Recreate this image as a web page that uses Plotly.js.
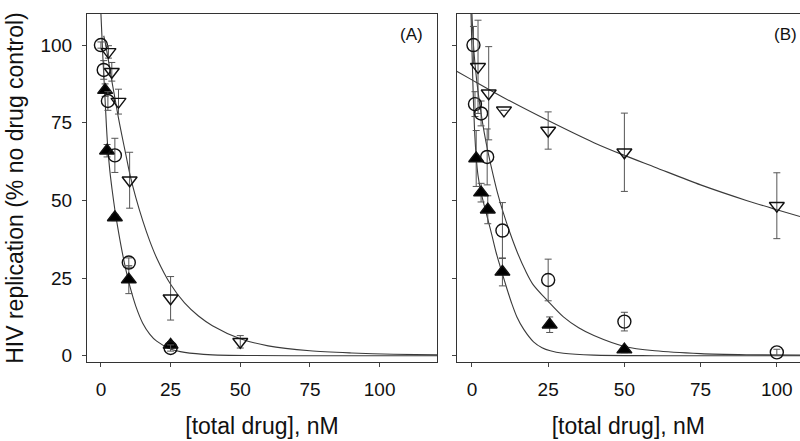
<!DOCTYPE html>
<html>
<head>
<meta charset="utf-8">
<script src="https://cdn.plot.ly/plotly-3.0.1.min.js"></script>
<style>
html,body{margin:0;padding:0;background:#fff;overflow:hidden;}
#chart{width:800px;height:441px;}
</style>
</head>
<body>
<div id="chart"></div>
<script>
// ---------- Panel A data ----------
var aCircX = [0, 1, 2.5, 5, 10, 25];
var aCircY = [100, 92, 82, 64.5, 30, 2.5];
var aCircE = [1, 3, 3, 5.5, 1.5, 1];

var aTriX = [1.5, 2.2, 5, 10, 25];
var aTriY = [85.5, 66, 44.5, 24.5, 3.5];
var aTriE = [2, 2, 1, 4.5, 1];

var aDownX = [2.7, 3.9, 6.3, 10.3, 25, 50];
var aDownY = [97.8, 91.4, 81.8, 56.5, 18.5, 4.5];
var aDownE = [2, 3, 4, 9, 7, 2];

// fitted curves
var aFit1X = [0, 0.7, 1.4, 2, 2.5, 3.2, 4, 5, 6, 7.5, 9, 10.5, 12.5, 15, 17.5, 20, 25, 30, 40, 55, 80, 120.6];
var aFit1Y = [110, 96, 84, 73.5, 66.5, 59.5, 53.5, 47, 41.5, 34, 27.5, 22, 16, 10.5, 7, 4.7, 2.2, 1.1, 0.3, 0.08, 0.02, 0];
var aFit2X = [1.0, 1.5, 2.7, 4, 5, 6.3, 7.5, 9, 10.5, 12.5, 15, 17.5, 20, 25, 30, 35, 40, 50, 60, 75, 90, 105, 120.6];
var aFit2Y = [103, 101, 95, 88, 83, 76.5, 71, 64.5, 58, 51, 43.5, 37, 31.5, 23, 17, 12.8, 9.7, 5.5, 3.2, 1.6, 0.9, 0.5, 0.3];

// ---------- Panel B data ----------
var bCircX = [0.5, 1, 3, 5, 10, 25, 50, 100];
var bCircY = [100, 81, 78, 64, 40.3, 24.4, 11, 1.1];
var bCircE = [6, 4, 4, 9, 9, 6.7, 3, 1];

var bTriX = [1.4, 3, 5.2, 10, 25.5, 50];
var bTriY = [63.5, 52.5, 47, 27, 10, 2];
var bTriE = [9, 3, 4.5, 4.5, 2.5, 1];

var bDownX = [2, 5.5, 10.5, 25, 50, 100];
var bDownY = [93, 84.5, 79, 72.5, 65.5, 48.3];
var bDownE = [15, 15, 0, 6, 12.6, 10.6];

var bFitDX = [-5, 0, 10, 25, 40, 50, 60, 75, 90, 100, 107.6];
var bFitDY = [91.6, 88.8, 83.3, 75.7, 68.6, 64.5, 60.7, 55.0, 50.0, 47.0, 44.8];
var bFitCX = [0, 0.5, 1, 2, 3, 4, 5.4, 7, 8.5, 10.2, 12.5, 15, 17.5, 20, 25, 30, 35, 40, 50, 60, 75, 90, 107.6];
var bFitCY = [110, 100, 94, 85, 78, 72, 65, 58, 52, 46.3, 39.5, 33, 27.5, 23, 17.5, 12.5, 9, 6.5, 3, 1.6, 0.7, 0.35, 0.2];
var bFitTX = [-0.3, 0.3, 0.8, 1.4, 2, 3, 4, 5.2, 6.5, 8, 9.8, 11.5, 13, 14.75, 17, 20.2, 23, 25.7, 30, 40, 60, 107.6];
var bFitTY = [110, 88, 74, 64, 58, 52.5, 48.5, 44, 39, 33, 27, 21.5, 17, 12.5, 8.5, 4.5, 2.6, 1.6, 0.8, 0.2, 0.02, 0];

var xTicks = [0, 25, 50, 75, 100];
var yTicks = [0, 25, 50, 75, 100];
var xTitle = '[total drug], nM';
var yTitle = 'HIV replication (% no drug control)';

var FONT = 'Liberation Sans, Arial, Helvetica, sans-serif';
var lineStyle = {color: '#3a3a3a', width: 1.1, shape: 'spline', smoothing: 0.8};

function fit(x, y, xa, ya) {
  return {x: x, y: y, xaxis: xa, yaxis: ya, mode: 'lines', line: lineStyle,
          hoverinfo: 'skip', showlegend: false};
}
function err(arr) {
  return {type: 'data', array: arr, visible: true, color: '#555', thickness: 1, width: 3.5};
}
function pts(x, y, e, xa, ya, sym, size, fill) {
  return {x: x, y: y, xaxis: xa, yaxis: ya, mode: 'markers', showlegend: false,
          error_y: err(e),
          marker: {symbol: sym, size: size, color: fill,
                   line: {color: '#111', width: 1.4}}};
}

var data = [
  fit(aFit1X, aFit1Y, 'x', 'y'),
  fit(aFit2X, aFit2Y, 'x', 'y'),
  fit(bFitDX, bFitDY, 'x2', 'y2'),
  fit(bFitCX, bFitCY, 'x2', 'y2'),
  fit(bFitTX, bFitTY, 'x2', 'y2'),
  pts(aTriX, aTriY, aTriE, 'x', 'y', 'triangle-up', 13, '#000'),
  pts(aCircX, aCircY, aCircE, 'x', 'y', 'circle-open', 13, '#111'),
  pts(aDownX, aDownY, aDownE, 'x', 'y', 'triangle-down-open', 13, '#111'),
  pts(bTriX, bTriY, bTriE, 'x2', 'y2', 'triangle-up', 13, '#000'),
  pts(bCircX, bCircY, bCircE, 'x2', 'y2', 'circle-open', 13, '#111'),
  pts(bDownX, bDownY, bDownE, 'x2', 'y2', 'triangle-down-open', 13, '#111')
];

var axBase = {
  showgrid: false, zeroline: false, showline: true, linecolor: '#333', linewidth: 1,
  ticks: 'outside', ticklen: 4, tickcolor: '#444', tickwidth: 1,
  tickfont: {family: FONT, size: 19, color: '#111'}
};
function ax(extra) { return Object.assign({}, axBase, extra); }

var layout = {
  width: 800, height: 441,
  margin: {l: 87, r: 0, t: 14, b: 79},
  paper_bgcolor: '#fff', plot_bgcolor: '#fff',
  font: {family: FONT, color: '#111'},
  showlegend: false,
  xaxis: ax({domain: [0, 0.4909], range: [-5, 120.6], tickvals: xTicks, mirror: true,
             ticklabelstandoff: 6,
             title: {text: xTitle, font: {family: FONT, size: 23, color: '#111'}, standoff: 19}}),
  yaxis: ax({domain: [0, 1], range: [-2, 110], tickvals: yTicks, mirror: true,
             ticklabelstandoff: 6,
             title: {text: yTitle, font: {family: FONT, size: 23, color: '#111'}, standoff: 10}}),
  xaxis2: ax({domain: [0.5185, 1], range: [-5, 107.6], tickvals: xTicks, mirror: true, anchor: 'y2',
              ticklabelstandoff: 6,
              title: {text: xTitle, font: {family: FONT, size: 23, color: '#111'}, standoff: 19}}),
  yaxis2: ax({domain: [0, 1], range: [-2, 110], tickvals: yTicks, showticklabels: false,
              mirror: false, anchor: 'x2'}),
  annotations: [
    {text: '(A)', xref: 'paper', yref: 'paper', x: 0.4558, y: 0.9425, showarrow: false,
     xanchor: 'center', yanchor: 'middle', font: {family: FONT, size: 17, color: '#111'}},
    {text: '(B)', xref: 'paper', yref: 'paper', x: 0.9797, y: 0.9425, showarrow: false,
     xanchor: 'center', yanchor: 'middle', font: {family: FONT, size: 17, color: '#111'}}
  ]
};

Plotly.newPlot('chart', data, layout, {staticPlot: true, displayModeBar: false});
</script>
</body>
</html>
